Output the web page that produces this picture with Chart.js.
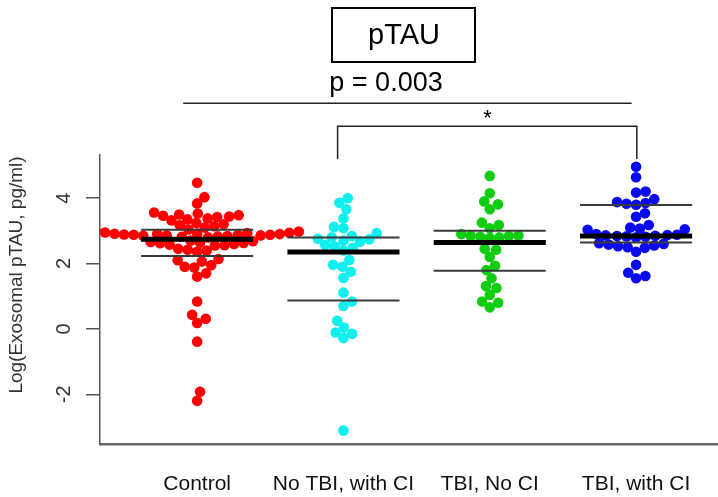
<!DOCTYPE html>
<html>
<head>
<meta charset="utf-8">
<title>pTAU</title>
<script src="https://cdn.jsdelivr.net/npm/chart.js@4/dist/chart.umd.min.js"></script>
<style>
  html, body { margin: 0; padding: 0; background: #fff; }
  #wrap { width: 718px; height: 497px; }
</style>
</head>
<body>
<div id="wrap"><canvas id="chart" width="718" height="497"></canvas></div>
<script>
/* ---- Data ---- */
const groups = ["Control", "No TBI, with CI", "TBI, No CI", "TBI, with CI"];
const groupColors = ["#ff0000", "#11eeee", "#11cc11", "#0a0aee"];

const controlVals = [
  4.47, 4.03, 3.84,
  3.56, 3.53, 3.5, 3.48, 3.46, 3.44, 3.42, 3.38, 3.35, 3.32,
  3.24, 3.2, 3.17, 3.14, 3.1,
  3.04, 3.0, 2.98,
  2.95, 2.94, 2.93, 2.92, 2.91, 2.9, 2.9, 2.89, 2.88, 2.88, 2.87, 2.86, 2.86, 2.85, 2.84, 2.83, 2.82, 2.8,
  2.7, 2.68, 2.66, 2.64, 2.63, 2.62, 2.6, 2.58, 2.56, 2.55,
  2.45, 2.42, 2.4, 2.36,
  2.14, 2.1, 2.06,
  1.95, 1.9, 1.88,
  1.7, 1.6,
  0.84, 0.43, 0.31, 0.18, -0.39, -1.92, -2.2
];
const noTbiCiVals = [
  4.0, 3.86, 3.66, 3.38, 3.12, 3.08, 2.93, 2.84, 2.8, 2.76, 2.74, 2.7, 2.67,
  2.57, 2.52, 2.48, 2.4, 2.11, 1.96, 1.9, 1.75, 1.56, 1.11, 0.84, 0.7,
  0.25, 0.04, -0.11, -0.15, -0.28, -3.11
];
const tbiNoCiVals = [
  4.68, 4.15, 3.9, 3.81, 3.66, 3.25, 3.18, 3.08, 2.9, 2.86, 2.84, 2.84, 2.82,
  2.8, 2.78, 2.45, 2.42, 2.2, 1.93, 1.8, 1.55, 1.31, 1.25, 1.04, 0.84, 0.8, 0.66
];
const tbiCiVals = [
  4.96, 4.64, 4.2, 4.17, 3.97, 3.88, 3.85, 3.83, 3.8, 3.54, 3.43, 3.18,
  3.1, 3.07, 3.05, 3.03,
  2.9, 2.88, 2.87, 2.86, 2.85, 2.84, 2.83, 2.82, 2.8,
  2.62, 2.6, 2.58, 2.55, 2.53, 2.5, 2.48,
  2.36, 1.96, 1.72, 1.62, 1.55
];
const groupVals = [controlVals, noTbiCiVals, tbiNoCiVals, tbiCiVals];

// quartile lines (upper, median, lower)
const q3Vals = [3.03, 2.8, 3.0, 3.79];
const medianVals = [2.74, 2.35, 2.64, 2.84];
const q1Vals = [2.23, 0.87, 1.78, 2.64];

const yTicks = [-2, 0, 2, 4];

/* ---- Layout constants ---- */
const X_MIN = 0.336, X_MAX = 4.56;
const Y_MIN = -3.52, Y_MAX = 5.32;
const X_PX = 618 / (X_MAX - X_MIN);
const Y_PX = 289 / (Y_MAX - Y_MIN);
const DOT = 9.6;         // swarm spacing in px
const HALF_LINE = 0.383; // half length of quartile lines (x units)

/* ---- Beeswarm offsets (ascending placement, closest to centre) ---- */
function swarm(values) {
  const order = values.map((v, i) => i).sort((a, b) => values[a] - values[b]);
  const placed = [];
  const offs = new Array(values.length);
  order.forEach(i => {
    const yy = values[i] * Y_PX;
    const near = placed.filter(p => Math.abs(p.y - yy) < DOT);
    const cands = [0];
    near.forEach(p => {
      const dx = Math.sqrt(DOT * DOT - (p.y - yy) * (p.y - yy));
      cands.push(p.x + dx, p.x - dx);
    });
    cands.sort((a, b) => Math.abs(a) - Math.abs(b));
    const x = cands.find(c => near.every(p => (p.x - c) ** 2 + (p.y - yy) ** 2 >= DOT * DOT - 1e-6));
    placed.push({ x: x, y: yy });
    offs[i] = x;
  });
  return offs;
}

const datasets = [];

/* quartile lines drawn on top */
groups.forEach((g, i) => {
  const c = i + 1;
  [[q3Vals[i], 2, "#3a3a3a"], [q1Vals[i], 2, "#3a3a3a"], [medianVals[i], 5, "#000"]].forEach(([v, w, col]) => {
    datasets.push({
      type: "line",
      data: [{ x: c - HALF_LINE, y: v }, { x: c + HALF_LINE, y: v }],
      borderColor: col,
      borderWidth: w,
      pointRadius: 0,
      order: 0
    });
  });
});

/* the swarm points */
groupVals.forEach((vals, i) => {
  const offs = swarm(vals);
  datasets.push({
    type: "scatter",
    label: groups[i],
    data: vals.map((v, k) => ({ x: i + 1 + offs[k] / X_PX, y: v })),
    backgroundColor: groupColors[i],
    borderWidth: 0,
    pointRadius: 5.3,
    order: 1
  });
});

/* ---- Annotations: title box, p-values, rotated y labels ---- */
const FONT = '"Liberation Sans", Arial, sans-serif';
const annot = {
  id: "annot",
  afterDraw(chart) {
    const { ctx } = chart;
    const x = chart.scales.x, y = chart.scales.y;
    ctx.save();

    // y tick labels, rotated like R
    ctx.fillStyle = "#333";
    ctx.font = "20px " + FONT;
    ctx.textAlign = "center";
    ctx.textBaseline = "middle";
    yTicks.forEach(v => {
      ctx.save();
      ctx.translate(64, y.getPixelForValue(v));
      ctx.rotate(-Math.PI / 2);
      ctx.fillText(String(v), 0, 0);
      ctx.restore();
    });

    // y title
    ctx.save();
    ctx.translate(17, 275);
    ctx.rotate(-Math.PI / 2);
    ctx.font = "19px " + FONT;
    ctx.fillText("Log(Exosomal pTAU, pg/ml)", 0, 0);
    ctx.restore();

    // title box
    ctx.strokeStyle = "#000";
    ctx.lineWidth = 2;
    ctx.strokeRect(332, 8, 143, 54);
    ctx.fillStyle = "#000";
    ctx.font = "29px " + FONT;
    ctx.fillText("pTAU", 404, 36);

    // overall p-value
    ctx.font = "27px " + FONT;
    ctx.fillText("p = 0.003", 386, 84);
    ctx.lineWidth = 1.5;
    ctx.strokeStyle = "#222";
    ctx.beginPath();
    ctx.moveTo(x.getPixelForValue(0.905), y.getPixelForValue(6.9));
    ctx.lineTo(x.getPixelForValue(3.97), y.getPixelForValue(6.9));
    ctx.stroke();

    // bracket No TBI with CI vs TBI with CI
    ctx.beginPath();
    ctx.moveTo(x.getPixelForValue(1.96), y.getPixelForValue(5.2));
    ctx.lineTo(x.getPixelForValue(1.96), y.getPixelForValue(6.2));
    ctx.lineTo(x.getPixelForValue(4.005), y.getPixelForValue(6.2));
    ctx.lineTo(x.getPixelForValue(4.005), y.getPixelForValue(5.2));
    ctx.stroke();
    ctx.font = "22px " + FONT;
    ctx.fillText("*", x.getPixelForValue(2.985), y.getPixelForValue(6.42));

    ctx.restore();
  }
};

new Chart(document.getElementById("chart"), {
  data: { datasets: datasets },
  options: {
    responsive: false,
    animation: false,
    layout: { autoPadding: false, padding: { top: 155, left: 0, right: 0, bottom: 0 } },
    plugins: { legend: { display: false }, tooltip: { enabled: false } },
    scales: {
      x: {
        type: "linear",
        min: X_MIN,
        max: X_MAX,
        afterBuildTicks: s => { s.ticks = groups.map((g, i) => ({ value: i + 1 })); },
        afterFit: s => { s.height = 53; s.paddingLeft = 0; s.paddingRight = 0; },
        ticks: {
          callback: (v, i) => groups[i],
          color: "#111",
          font: { family: FONT, size: 21 },
          padding: 28,
          maxRotation: 0,
          autoSkip: false
        },
        grid: { display: false, drawTicks: false },
        border: { display: true, color: "#666", width: 2.5 }
      },
      y: {
        min: Y_MIN,
        max: Y_MAX,
        afterBuildTicks: s => { s.ticks = yTicks.map(v => ({ value: v })); },
        afterFit: s => { s.width = 100; s.paddingTop = 0; s.paddingBottom = 0; },
        ticks: { display: false },
        grid: { drawOnChartArea: false, drawTicks: true, tickLength: 14, color: "#555", lineWidth: 1.5 },
        border: { display: true, color: "#555", width: 1.5 }
      }
    }
  },
  plugins: [annot]
});
</script>
</body>
</html>
